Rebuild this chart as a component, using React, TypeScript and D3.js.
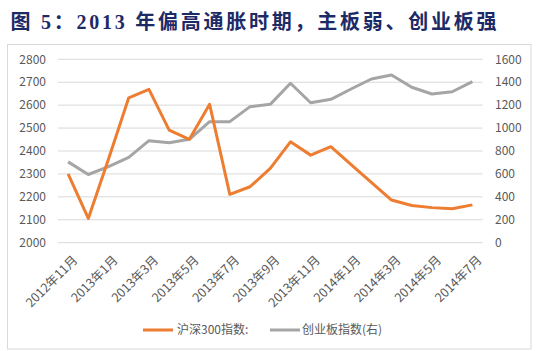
import React from "react";
import * as d3 from "d3";

const months = [
  "2012年11月", "2012年12月", "2013年1月", "2013年2月", "2013年3月", "2013年4月", "2013年5月",
  "2013年6月", "2013年7月", "2013年8月", "2013年9月", "2013年10月", "2013年11月", "2013年12月",
  "2014年1月", "2014年2月", "2014年3月", "2014年4月", "2014年5月", "2014年6月", "2014年7月",
];
const hs300 = [
  2300, 2106, 2365, 2632, 2669, 2491, 2451, 2604, 2211, 2244, 2324,
  2440, 2382, 2419, 2341, 2263, 2186, 2162, 2153, 2148, 2165,
];
const chinext = [
  705, 595, 663, 745, 890, 872, 902, 1056, 1056, 1187, 1207,
  1391, 1221, 1251, 1341, 1428, 1463, 1356, 1297, 1317, 1405,
];
const leftTicks = [2000, 2100, 2200, 2300, 2400, 2500, 2600, 2700, 2800];
const rightTicks = [0, 200, 400, 600, 800, 1000, 1200, 1400, 1600];
const labelEvery = 2;
const title = "图 5：2013 年偏高通胀时期，主板弱、创业板强";
const seriesNames = ["沪深300指数:", "创业板指数(右)"];

const W = 550, H = 351;
const plot = { left: 58, right: 482.5, top: 59.3, bottom: 242.7 };
const FONT = "'Noto Sans CJK SC', 'Noto Sans', sans-serif";

export default function App() {
  const x = d3.scaleBand<string>().domain(months).range([plot.left, plot.right]);
  const cx = (m: string) => (x(m) as number) + x.bandwidth() / 2;
  const yL = d3.scaleLinear().domain([2000, 2800]).range([plot.bottom, plot.top]);
  const yR = d3.scaleLinear().domain([0, 1600]).range([plot.bottom, plot.top]);
  const lineL = d3.line<number>().x((_, i) => cx(months[i])).y((d) => yL(d));
  const lineR = d3.line<number>().x((_, i) => cx(months[i])).y((d) => yR(d));

  return (
    <svg width={W} height={H} style={{ position: "absolute", left: 0, top: 0, background: "#fff" }}>
      <rect x={0} y={0} width={W} height={H} fill="#fff" />
      <text x={10.5} y={29} fontSize={20} fontWeight="bold" fill="#1c2a66"
        fontFamily="'Liberation Serif', 'Noto Sans CJK SC', serif"
        textLength={486} lengthAdjust="spacing">{title}</text>
      <rect x={7.5} y={44.5} width={523.5} height={304.5} fill="none" stroke="#d9d9d9" strokeWidth={1} />
      {leftTicks.map((t) => (
        <line key={"g" + t} x1={plot.left} x2={plot.right} y1={yL(t)} y2={yL(t)} stroke="#d9d9d9" strokeWidth={1} />
      ))}
      {leftTicks.map((t) => (
        <text key={"l" + t} x={46} y={yL(t)} dy="0.35em" textAnchor="end" fontSize={12} fill="#595959" fontFamily={FONT}>{t}</text>
      ))}
      {rightTicks.map((t) => (
        <text key={"r" + t} x={495} y={yR(t)} dy="0.35em" textAnchor="start" fontSize={12} fill="#595959" fontFamily={FONT}>{t}</text>
      ))}
      {months.map((m, i) => i % labelEvery === 0 ? (
        <text key={"x" + m} transform={`translate(${cx(m) + 4},${plot.bottom + 12}) rotate(-45)`}
          textAnchor="end" dy="0.7em" fontSize={12.5} fill="#595959" fontFamily={FONT}>{m}</text>
      ) : null)}
      <path d={lineR(chinext) || ""} fill="none" stroke="#a5a5a5" strokeWidth={3} strokeLinejoin="round" />
      <path d={lineL(hs300) || ""} fill="none" stroke="#ed7d31" strokeWidth={3} strokeLinejoin="round" />
      <line x1={143} x2={173} y1={330} y2={330} stroke="#ed7d31" strokeWidth={3} />
      <text x={177} y={330} dy="0.35em" fontSize={12} fill="#595959" fontFamily={FONT}>{seriesNames[0]}</text>
      <line x1={270} x2={300} y1={330} y2={330} stroke="#a5a5a5" strokeWidth={3} />
      <text x={302} y={330} dy="0.35em" fontSize={12} fill="#595959" fontFamily={FONT}>{seriesNames[1]}</text>
    </svg>
  );
}
